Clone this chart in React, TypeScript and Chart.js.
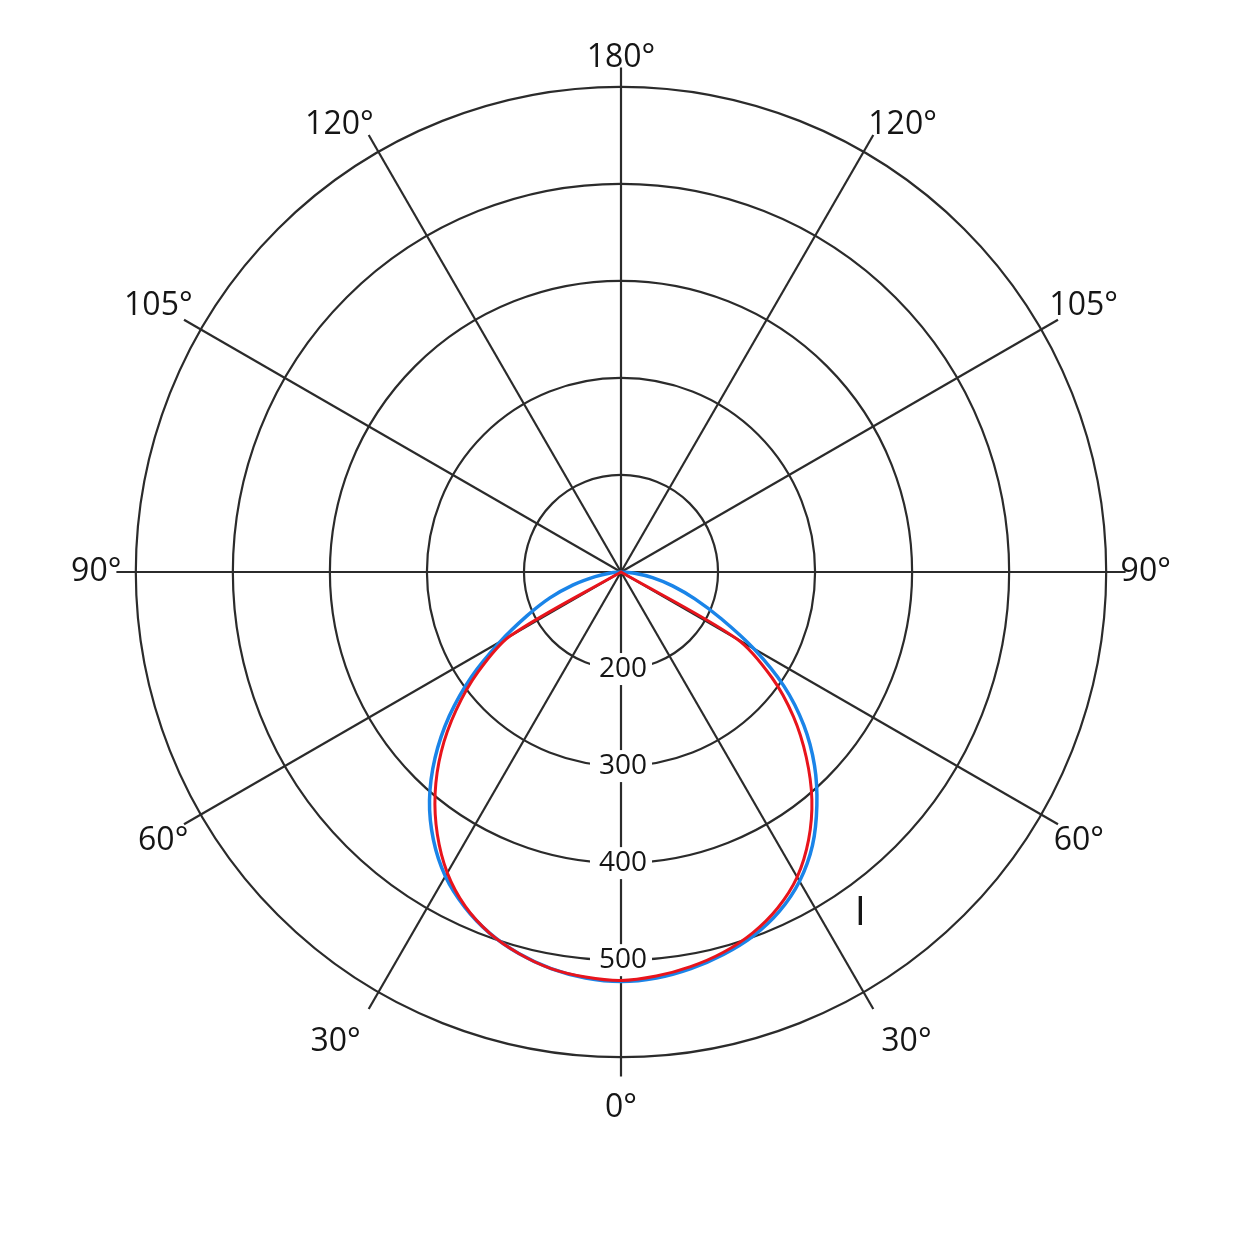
import React, { useEffect, useRef } from 'react';
import { Chart, registerables } from 'chart.js';

Chart.register(...registerables);

// spoke labels, clockwise from the bottom (0°) through the left side and back down the right side
const spokeLabels = ['0°', '30°', '60°', '90°', '105°', '120°', '180°', '120°', '105°', '90°', '60°', '30°'];
const stepsPerSpoke = 6; // one reading every 5°

const angleLabels = Array.from({ length: spokeLabels.length * stepsPerSpoke }, (_, i) =>
    i % stepsPerSpoke === 0 ? spokeLabels[i / stepsPerSpoke] : ''
);

// intensity readings every 5°, same order as angleLabels (100 = centre of the diagram)
const blueCurve = [
    522, 520, 515, 507, 496, 481, 462, 437, 407, 371, 331, 288, 244, 207, 178, 151, 127, 111, // 0°..85° left
    100, 100, 100, 100, 100, 100, 100, 100, 100, 100, 100, 100, 100, 100, 100, 100, 100, 100, // 90°..175°
    100, 100, 100, 100, 100, 100, 100, 100, 100, 100, 100, 100, 100, 100, 100, 100, 100, 100, // 180°..265°
    100, 114, 133, 155, 181, 214, 258, 305, 346, 382, 414, 444, 468, 486, 499, 508, 515, 520, // 90°..5° right
];

const redCurve = [
    521, 519, 515, 507, 496, 480, 458, 430, 398, 362, 322, 280, 232, 100, 100, 100, 100, 100,
    100, 100, 100, 100, 100, 100, 100, 100, 100, 100, 100, 100, 100, 100, 100, 100, 100, 100,
    100, 100, 100, 100, 100, 100, 100, 100, 100, 100, 100, 100, 100, 100, 100, 100, 100, 100,
    100, 100, 100, 100, 100, 100, 238, 290, 332, 370, 406, 437, 463, 482, 496, 506, 513, 518,
];

const ringTicks = [200, 300, 400, 500];
const curveName = 'I';
const curveNameAt = { index: 65, value: 530 };

const FONT = 'Open Sans';
const INK = '#151515';
const GRID = '#2b2b2b';

// ring values along the 0° spoke and the curve name, drawn from the radial scale
const ringLabels = {
    id: 'ringLabels',
    beforeDatasetsDraw(chart: any) {
        const r = chart.scales.r;
        const ctx = chart.ctx;
        ctx.save();
        ctx.textAlign = 'center';
        ctx.textBaseline = 'middle';
        ctx.font = `28px "${FONT}"`;
        ringTicks.forEach((v) => {
            const y = r.yCenter + r.getDistanceFromCenterForValue(v);
            const text = String(v);
            const w = ctx.measureText(text).width + 14;
            ctx.fillStyle = '#ffffff';
            ctx.fillRect(r.xCenter - w / 2, y - 16, w, 32);
            ctx.fillStyle = INK;
            ctx.fillText(text, r.xCenter + 2, y);
        });
        const p = r.getPointPosition(curveNameAt.index, r.getDistanceFromCenterForValue(curveNameAt.value));
        ctx.font = `40px "${FONT}"`;
        ctx.fillText(curveName, p.x, p.y);
        ctx.restore();
    },
};

// spoke labels sit a little lower in the lower half of the diagram
const labelPadding = (ctx: any) => {
    const i = ctx.index;
    if (i === 0) return 12;
    if (i === 6 || i === 66) return 16;
    if (i > 18 && i < 54) return -10;
    return -5;
};

const App = () => {
    const chartRef = useRef<HTMLCanvasElement>(null);

    useEffect(() => {
        if (!chartRef.current) return;

        const chart = new Chart(chartRef.current, {
            type: 'radar',
            data: {
                labels: angleLabels,
                datasets: [
                    {
                        label: 'red',
                        data: redCurve,
                        borderColor: '#e8141c',
                        borderWidth: 3,
                        pointRadius: 0,
                        fill: false,
                        tension: 0.3,
                    },
                    {
                        label: 'blue',
                        data: blueCurve,
                        borderColor: '#1a84e8',
                        borderWidth: 3.5,
                        pointRadius: 0,
                        fill: false,
                        tension: 0.3,
                    },
                ],
            },
            options: {
                responsive: true,
                maintainAspectRatio: false,
                animation: false,
                layout: { padding: { left: 10, right: 22, top: 29, bottom: 116 } },
                plugins: {
                    legend: { display: false },
                    tooltip: { enabled: false },
                },
                scales: {
                    r: {
                        min: 100,
                        max: 620,
                        startAngle: 180,
                        ticks: { display: false, stepSize: 100, includeBounds: false },
                        grid: { circular: true, color: GRID, lineWidth: 2.2 },
                        angleLines: {
                            color: GRID,
                            lineWidth: (ctx: any) => (ctx.index % stepsPerSpoke === 0 ? 2.2 : 0),
                        },
                        pointLabels: {
                            color: INK,
                            font: { family: FONT, size: 32 },
                            padding: labelPadding,
                        },
                    },
                },
            } as any,
            plugins: [ringLabels],
        });
        return () => chart.destroy();
    }, []);

    return (
        <div style={{ position: 'absolute', left: 0, top: 0, width: 1254, height: 1254, background: '#ffffff' }}>
            <canvas ref={chartRef} />
        </div>
    );
};

export default App;
